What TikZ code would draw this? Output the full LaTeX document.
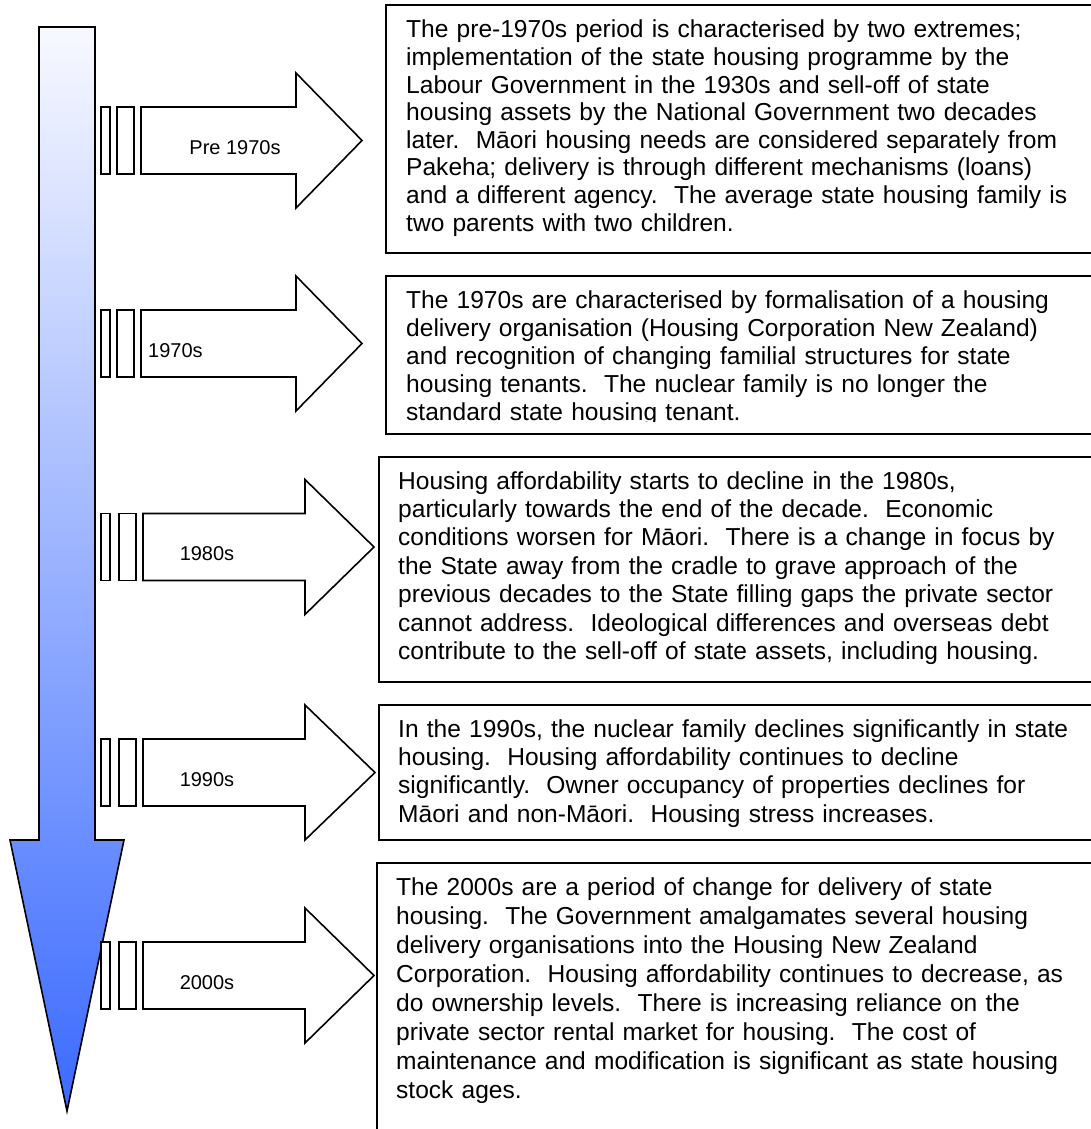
\documentclass[tikz,border=0pt]{standalone}
\usepackage{fontspec}
\setmainfont{Liberation Sans}
\frenchspacing
\definecolor{lineTop}{RGB}{248,249,255}
\definecolor{lineMid}{RGB}{180,190,255}
\definecolor{lineBot}{RGB}{58,106,255}
\tikzset{
  outline/.style={draw=black,line width=1.6pt,line join=miter},
  notebox/.style={anchor=base west,inner sep=0pt,text width=700pt,align=left,
    font=\fontsize{24.55}{28.4}\selectfont},
  decade/.style={inner sep=0pt,font=\fontsize{20}{24}\selectfont}
}
\begin{document}
\begin{tikzpicture}[x=1pt,y=-1pt]
\useasboundingbox (0,0) rectangle (1091,1129);
\clip (0,0) rectangle (1091,1129);
% time line
\draw[outline,top color=lineTop,middle color=lineMid,bottom color=lineBot]
  (39,27) -- (95,27) -- (95,840) -- (124,840) -- (67,1111) -- (10,840) -- (39,840) -- cycle;
% decade arrows
\foreach \yc/\bx/\hx/\tx/\lx/\an/\lab/\nm in {140.5/141/296/362/235/base/Pre 1970s/pre,
    343.5/141/296/362/148/base west/1970s/d70, 547/143/305/374/207/base/1980s/d80,
    772.5/143/305/375/207/base/1990s/d90, 975.5/143/305/374/207/base/2000s/d00}{
  \draw[outline,fill=white] (101,\yc-33.5) rectangle (110,\yc+33.5);
  \draw[outline,fill=white] (\bx-24,\yc-33.5) rectangle (\bx-7,\yc+33.5);
  \draw[outline,fill=white] (\bx,\yc-33.5) -- (\hx,\yc-33.5) -- (\hx,\yc-67.5)
    -- (\tx,\yc) -- (\hx,\yc+67.5) -- (\hx,\yc+33.5) -- (\bx,\yc+33.5) -- cycle;
  \node[decade,anchor=\an] (lab\nm) at (\lx,\yc+13.5) {\lab};
}
% notes
\draw[outline] (386,5) rectangle (1100,253);
\node[notebox,font=\fontsize{24.55}{27.6}\selectfont] (notepre) at (406,38) {The pre-1970s period is characterised by two extremes;\\
implementation of the state housing programme by the\\
Labour Government in the 1930s and sell-off of state\\
housing assets by the National Government two decades\\
later.\ \ Māori housing needs are considered separately from\\
Pakeha; delivery is through different mechanisms (loans)\\
and a different agency.\ \ The average state housing family is\\
two parents with two children.};
\draw[outline] (386,276) rectangle (1100,434);
\begin{scope}
\clip (386,276) rectangle (1100,421);
\node[notebox,font=\fontsize{24.55}{28}\selectfont] (note70) at (406,308) {The 1970s are characterised by formalisation of a housing\\
delivery organisation (Housing Corporation New Zealand)\\
and recognition of changing familial structures for state\\
housing tenants.\ \ The nuclear family is no longer the\\
standard state housing tenant.};
\end{scope}
\draw[outline] (379,457) rectangle (1100,682);
\node[notebox] (note80) at (398,489) {Housing affordability starts to decline in the 1980s,\\
particularly towards the end of the decade.\ \ Economic\\
conditions worsen for Māori.\ \ There is a change in focus by\\
the State away from the cradle to grave approach of the\\
previous decades to the State filling gaps the private sector\\
cannot address.\ \ Ideological differences and overseas debt\\
contribute to the sell-off of state assets, including housing.};
\draw[outline] (379,705) rectangle (1100,840);
\node[notebox] (note90) at (398,737) {In the 1990s, the nuclear family declines significantly in state\\
housing.\ \ Housing affordability continues to decline\\
significantly.\ \ Owner occupancy of properties declines for\\
Māori and non-Māori.\ \ Housing stress increases.};
\draw[outline] (377,863) rectangle (1100,1140);
\node[notebox,font=\fontsize{24.55}{29}\selectfont] (note00) at (396,895) {The 2000s are a period of change for delivery of state\\
housing.\ \ The Government amalgamates several housing\\
delivery organisations into the Housing New Zealand\\
Corporation.\ \ Housing affordability continues to decrease, as\\
do ownership levels.\ \ There is increasing reliance on the\\
private sector rental market for housing.\ \ The cost of\\
maintenance and modification is significant as state housing\\
stock ages.};
\end{tikzpicture}
\end{document}
